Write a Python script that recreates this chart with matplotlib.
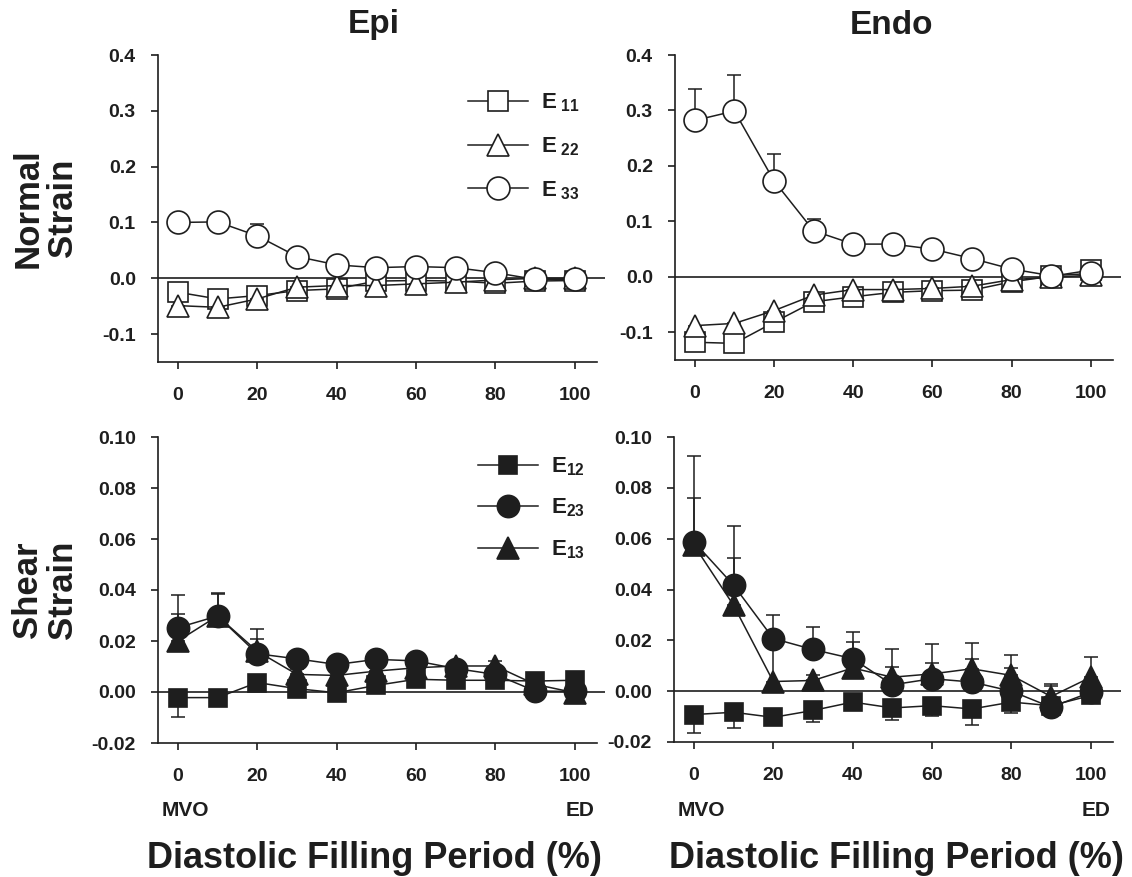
import matplotlib
matplotlib.use('Agg')
import matplotlib.pyplot as plt
from matplotlib.transforms import blended_transform_factory

plt.rcParams['font.family'] = ['Liberation Sans', 'DejaVu Sans']
plt.rcParams['font.weight'] = 'bold'
plt.rcParams['mathtext.fontset'] = 'custom'
plt.rcParams['mathtext.rm'] = 'Liberation Sans:bold'
plt.rcParams['mathtext.bf'] = 'Liberation Sans:bold'
plt.rcParams['mathtext.it'] = 'Liberation Sans:bold'

# ---------------- data ----------------
x_pct = [0, 10, 20, 30, 40, 50, 60, 70, 80, 90, 100]
x_ticks = [0, 20, 40, 60, 80, 100]
x_ticklabels = ['0', '20', '40', '60', '80', '100']

normal_yticks = [-0.1, 0.0, 0.1, 0.2, 0.3, 0.4]
normal_yticklabels = ['-0.1', '0.0', '0.1', '0.2', '0.3', '0.4']
shear_yticks = [-0.02, 0.0, 0.02, 0.04, 0.06, 0.08, 0.10]
shear_yticklabels = ['-0.02', '0.00', '0.02', '0.04', '0.06', '0.08', '0.10']

# Epi normal strains
epi_E11 = [-0.025, -0.037, -0.031, -0.022, -0.019, -0.005, -0.004, -0.005, -0.009, -0.005, -0.004]
epi_E22 = [-0.049, -0.052, -0.037, -0.016, -0.013, -0.013, -0.010, -0.007, -0.003, 0.000, 0.000]
epi_E33 = [0.100, 0.101, 0.076, 0.039, 0.024, 0.019, 0.021, 0.019, 0.010, -0.002, -0.002]
epi_E11_err = [0.005, 0.005, 0.005, 0.004, 0.004, 0.004, 0.004, 0.003, 0.003, 0.003, 0.003]
epi_E22_err = [0.005, 0.005, 0.005, 0.004, 0.004, 0.004, 0.004, 0.003, 0.003, 0.003, 0.003]
epi_E33_err = [0.010, 0.012, 0.022, 0.008, 0.006, 0.006, 0.006, 0.005, 0.005, 0.005, 0.005]

# Endo normal strains
endo_E11 = [-0.118, -0.120, -0.082, -0.045, -0.036, -0.028, -0.025, -0.024, -0.009, 0.001, 0.012]
endo_E22 = [-0.088, -0.084, -0.061, -0.033, -0.023, -0.023, -0.021, -0.017, -0.005, -0.001, 0.003]
endo_E33 = [0.282, 0.299, 0.173, 0.083, 0.059, 0.059, 0.050, 0.033, 0.014, 0.002, 0.006]
endo_E11_err = [0.010, 0.010, 0.008, 0.006, 0.005, 0.005, 0.005, 0.005, 0.004, 0.004, 0.004]
endo_E22_err = [0.010, 0.010, 0.008, 0.006, 0.005, 0.005, 0.005, 0.005, 0.004, 0.004, 0.004]
endo_E33_err = [0.056, 0.065, 0.049, 0.021, 0.010, 0.010, 0.010, 0.008, 0.006, 0.005, 0.005]

# Epi shear strains
epi_E12 = [-0.0022, -0.0022, 0.0037, 0.0013, -0.0003, 0.0026, 0.0050, 0.0046, 0.0046, 0.0043, 0.0046]
epi_E23 = [0.0252, 0.0298, 0.0150, 0.0130, 0.0108, 0.0128, 0.0122, 0.0092, 0.0069, 0.0004, 0.0002]
epi_E13 = [0.0200, 0.0298, 0.0160, 0.0069, 0.0065, 0.0082, 0.0095, 0.0102, 0.0102, 0.0030, -0.0003]
epi_E12_err = [0.0076, 0.0020, 0.0015, 0.0015, 0.0015, 0.0015, 0.0015, 0.0015, 0.0015, 0.0015, 0.0015]
epi_E23_err = [0.0128, 0.0092, 0.0096, 0.0020, 0.0020, 0.0020, 0.0020, 0.0020, 0.0020, 0.0020, 0.0020]
epi_E13_err = [0.0105, 0.0088, 0.0047, 0.0020, 0.0020, 0.0020, 0.0020, 0.0020, 0.0020, 0.0020, 0.0020]

# Endo shear strains
endo_E12 = [-0.0092, -0.0083, -0.0103, -0.0076, -0.0043, -0.0066, -0.0057, -0.0070, -0.0043, -0.0057, -0.0017]
endo_E23 = [0.0588, 0.0417, 0.0207, 0.0164, 0.0128, 0.0025, 0.0049, 0.0036, 0.0000, -0.0063, -0.0004]
endo_E13 = [0.0575, 0.0338, 0.0038, 0.0042, 0.0091, 0.0055, 0.0068, 0.0088, 0.0062, -0.0021, 0.0055]
endo_E12_err = [0.0072, 0.0063, 0.0020, 0.0046, 0.0020, 0.0047, 0.0039, 0.0062, 0.0044, 0.0020, 0.0020]
endo_E23_err = [0.0336, 0.0233, 0.0092, 0.0089, 0.0105, 0.0142, 0.0138, 0.0154, 0.0143, 0.0093, 0.0030]
endo_E13_err = [0.0184, 0.0184, 0.0160, 0.0020, 0.0102, 0.0042, 0.0042, 0.0040, 0.0030, 0.0043, 0.0079]

INK = '#1e1e1e'
W, H = 1132, 877

fig = plt.figure(figsize=(W / 100, H / 100), dpi=100)


def px_axes(l, t, r, b):
    return fig.add_axes([l / W, 1 - b / H, (r - l) / W, (b - t) / H])


ax_tl = px_axes(158, 55, 605, 362)
ax_tr = px_axes(675, 55, 1121, 360)
ax_bl = px_axes(158, 437, 605, 743)
ax_br = px_axes(674, 437, 1121, 742)


def style(ax, ylim, yticks, yticklabels):
    ax.set_xlim(-5, 107.6)
    ax.set_ylim(*ylim)
    for s in ('top', 'right'):
        ax.spines[s].set_visible(False)
    for s in ('left', 'bottom'):
        ax.spines[s].set_color(INK)
        ax.spines[s].set_linewidth(1.2)
    ax.spines['bottom'].set_bounds(-5, 105.5)
    ax.axhline(0, color=INK, lw=1.2, zorder=1)
    ax.set_xticks(x_ticks)
    ax.set_xticklabels(x_ticklabels)
    ax.set_yticks(yticks)
    ax.set_yticklabels(yticklabels)
    ax.tick_params(axis='both', direction='out', length=5, width=1.2, color=INK,
                   labelsize=14, labelcolor=INK)
    ax.tick_params(axis='x', pad=13)
    ax.tick_params(axis='y', pad=11)
    for lab in ax.get_xticklabels() + ax.get_yticklabels():
        lab.set_fontweight('bold')


def series(ax, y, err, marker, ms, filled, up, z, label=None):
    zeros = [0.0] * len(err)
    yerr = [zeros, err] if up else [err, zeros]
    ax.errorbar(x_pct, y, yerr=yerr, fmt='none', ecolor=INK, elinewidth=1.1,
                capsize=5, capthick=1.1, zorder=z)
    line, = ax.plot(x_pct, y, marker=marker, ms=ms, mfc=INK if filled else 'white',
                    mec=INK, mew=1.2, color=INK, lw=1.1, zorder=z + 0.5, label=label)
    return line


style(ax_tl, (-0.15, 0.4), normal_yticks, normal_yticklabels)
style(ax_tr, (-0.15, 0.4), normal_yticks, normal_yticklabels)
style(ax_bl, (-0.02, 0.10), shear_yticks, shear_yticklabels)
style(ax_br, (-0.02, 0.10), shear_yticks, shear_yticklabels)

# normal strains (open markers)
h11 = series(ax_tl, epi_E11, epi_E11_err, 's', 14.5, False, False, 3, r'$\mathbf{E}_{\mathbf{\ 11}}$')
h22 = series(ax_tl, epi_E22, epi_E22_err, '^', 16, False, False, 4, r'$\mathbf{E}_{\mathbf{\ 22}}$')
h33 = series(ax_tl, epi_E33, epi_E33_err, 'o', 16.5, False, True, 5, r'$\mathbf{E}_{\mathbf{\ 33}}$')
series(ax_tr, endo_E11, endo_E11_err, 's', 14.5, False, False, 3)
series(ax_tr, endo_E22, endo_E22_err, '^', 16, False, False, 4)
series(ax_tr, endo_E33, endo_E33_err, 'o', 16.5, False, True, 5)

# shear strains (filled markers)
g12 = series(ax_bl, epi_E12, epi_E12_err, 's', 13.5, True, False, 3, r'$\mathbf{E}_{\mathbf{12}}$')
g13 = series(ax_bl, epi_E13, epi_E13_err, '^', 16, True, True, 4, r'$\mathbf{E}_{\mathbf{13}}$')
g23 = series(ax_bl, epi_E23, epi_E23_err, 'o', 16, True, True, 5, r'$\mathbf{E}_{\mathbf{23}}$')
series(ax_br, endo_E12, endo_E12_err, 's', 13.5, True, False, 3)
series(ax_br, endo_E13, endo_E13_err, '^', 16, True, True, 4)
series(ax_br, endo_E23, endo_E23_err, 'o', 16, True, True, 5)

leg1 = ax_tl.legend([h11, h22, h33], [h11.get_label(), h22.get_label(), h33.get_label()],
                    loc='upper left', bbox_to_anchor=(0.693, 0.88), frameon=False,
                    handlelength=2.7, handletextpad=0.6, labelspacing=0.95,
                    borderpad=0, borderaxespad=0, fontsize=16, labelcolor=INK)
leg2 = ax_bl.legend([g12, g23, g13], [g12.get_label(), g23.get_label(), g13.get_label()],
                    loc='upper left', bbox_to_anchor=(0.716, 0.94), frameon=False,
                    handlelength=2.7, handletextpad=0.6, labelspacing=0.85,
                    borderpad=0, borderaxespad=0, fontsize=16, labelcolor=INK)

# titles
fig.text(374 / W, 1 - 25 / H, 'Epi', ha='center', va='center', fontsize=24,
         fontweight='bold', color=INK)
fig.text(891 / W, 1 - 25 / H, 'Endo', ha='center', va='center', fontsize=24,
         fontweight='bold', color=INK)

# y labels
fig.text(45 / W, 1 - 208 / H, 'Normal\nStrain', rotation=90, ha='center', va='center',
         multialignment='center', linespacing=1.05, fontsize=25, fontweight='bold', color=INK)
fig.text(45 / W, 1 - 590 / H, 'Shear\nStrain', rotation=90, ha='center', va='center',
         multialignment='center', linespacing=1.05, fontsize=25, fontweight='bold', color=INK)

# x labels and MVO / ED annotations
for ax, cx in ((ax_bl, 374), (ax_br, 896)):
    tr = blended_transform_factory(ax.transData, fig.transFigure)
    ax.text(2, 1 - 810 / H, 'MVO', transform=tr, ha='center', va='center',
            fontsize=15, fontweight='bold', color=INK)
    ax.text(105, 1 - 810 / H, 'ED', transform=tr, ha='right', va='center',
            fontsize=15, fontweight='bold', color=INK)
    fig.text(cx / W, 1 - 858 / H, 'Diastolic Filling Period (%)', ha='center', va='center',
             fontsize=26, fontweight='bold', color=INK)

fig.savefig('out.png', dpi=100)
